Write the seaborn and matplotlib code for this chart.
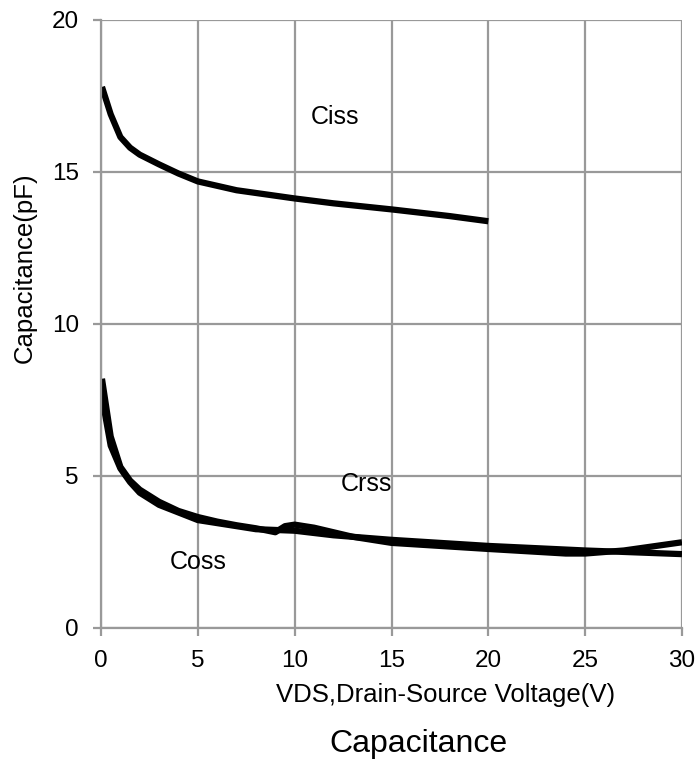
import numpy as np
import pandas as pd
import matplotlib.pyplot as plt
import seaborn as sns

# --- data ---
ciss_v = [0.05, 0.5, 1, 1.5, 2, 3, 4, 5, 7, 10, 12, 15, 18, 20]
ciss_c = [17.8, 16.9, 16.15, 15.8, 15.57, 15.25, 14.95, 14.69, 14.4, 14.13, 13.97, 13.77, 13.55, 13.38]

crss_v = [0.05, 0.5, 1, 1.5, 2, 3, 4, 5, 6, 7, 8, 9, 9.5, 10, 11, 12, 13, 15, 20, 24, 25, 27, 30]
crss_c = [8.2, 6.3, 5.3, 4.85, 4.55, 4.15, 3.85, 3.65, 3.5, 3.38, 3.28, 3.15, 3.35, 3.4, 3.3, 3.15, 3.0, 2.8, 2.6, 2.45, 2.45, 2.55, 2.82]

coss_v = [0.05, 0.5, 1, 1.5, 2, 3, 4, 5, 6, 8, 10, 12, 15, 20, 25, 30]
coss_c = [7.6, 6.0, 5.25, 4.8, 4.45, 4.05, 3.8, 3.55, 3.45, 3.25, 3.2, 3.05, 2.9, 2.7, 2.55, 2.43]

df = pd.concat([
    pd.DataFrame({"v": ciss_v, "c": ciss_c, "s": "Ciss"}),
    pd.DataFrame({"v": crss_v, "c": crss_c, "s": "Crss"}),
    pd.DataFrame({"v": coss_v, "c": coss_c, "s": "Coss"}),
])

sns.set_style("white")
plt.rcParams['font.family'] = ['Liberation Sans', 'DejaVu Sans']
plt.rcParams.update({'text.color': 'black', 'axes.labelcolor': 'black',
                     'xtick.labelcolor': 'black', 'ytick.labelcolor': 'black'})

fig = plt.figure(figsize=(6.99, 7.6), dpi=100)
ax = fig.add_axes([101/699, 1 - 628/760, 581/699, 608/760])

for name, g in df.groupby("s", sort=False):
    sns.lineplot(data=g, x="v", y="c", ax=ax, color="black", linewidth=4.5,
                 solid_capstyle="butt", sort=False, legend=False)

grid_col = "#999999"
ax.set_xlim(0, 30)
ax.set_ylim(0, 20)
ax.set_xticks(range(0, 31, 5))
ax.set_yticks(range(0, 21, 5))
ax.grid(True, color=grid_col, linewidth=1.6)
ax.set_axisbelow(True)
for sp in ["top", "right"]:
    ax.spines[sp].set_visible(False)
for sp in ["left", "bottom"]:
    ax.spines[sp].set_color(grid_col)
    ax.spines[sp].set_linewidth(1.6)
ax.tick_params(axis="both", bottom=True, left=True, length=6, width=1.6,
               color=grid_col, labelcolor="black", labelsize=17.5, pad=10)

ax.text(12.1, 16.8, "Ciss", fontsize=18, ha="center", va="center")
ax.text(13.7, 4.75, "Crss", fontsize=18, ha="center", va="center")
ax.text(5.0, 2.16, "Coss", fontsize=18, ha="center", va="center")

ax.set_xlabel("VDS,Drain-Source Voltage(V)", fontsize=18.5, color="black")
ax.xaxis.set_label_coords((446 - 101) / 581, -(702 - 628) / 608)
ax.xaxis.label.set_va("baseline")
ax.set_ylabel("Capacitance(pF)", fontsize=18.5, color="black")
ax.yaxis.set_label_coords(-(101 - 25) / 581, (628 - 268) / 608)
ax.yaxis.label.set_va("center")

fig.text(418 / 699, 1 - 752 / 760, "Capacitance", fontsize=23, ha="center", va="baseline")

fig.savefig("out.png", dpi=100)
